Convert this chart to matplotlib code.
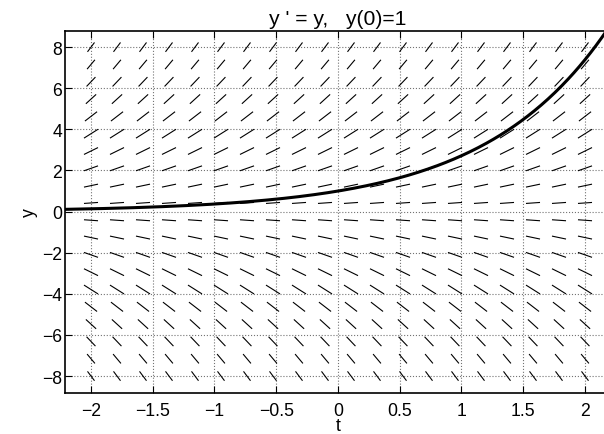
import numpy as np
import matplotlib.pyplot as plt
from matplotlib.collections import LineCollection

# grid of the direction field (y' = y)
t_vals = np.linspace(-2, 2, 20)
y_vals = np.linspace(-8, 8, 20)
x_ticks = [-2, -1.5, -1, -0.5, 0, 0.5, 1, 1.5, 2]
y_ticks = [-8, -6, -4, -2, 0, 2, 4, 6, 8]

dt = t_vals[1] - t_vals[0]
dy = y_vals[1] - y_vals[0]

tm, ym = np.meshgrid(t_vals, y_vals)
yp = ym  # slope f(t, y) = y
s = 0.27 / np.maximum(1 / dt, np.abs(yp) / dy)

segs = []
for t0, y0, si, ypi in zip(tm.ravel(), ym.ravel(), s.ravel(), yp.ravel()):
    segs.append([(t0 - si, y0 - si * ypi), (t0 + si, y0 + si * ypi)])

plt.rcParams['font.family'] = ['Liberation Sans', 'DejaVu Sans']
plt.rcParams['font.size'] = 12.7

fig = plt.figure(figsize=(6.04, 4.35), dpi=100)
ax = fig.add_axes([65 / 604, (435 - 393.5) / 435, (611 - 65) / 604, (393.5 - 31.7) / 435])

ax.add_collection(LineCollection(segs, colors='k', linewidths=0.8))

# solution y(t) = e^t, y(0) = 1
xlim = (-2 - dt, 2 + dt)
t_sol = np.linspace(xlim[0], xlim[1], 400)
ax.plot(t_sol, np.exp(t_sol), 'k', lw=2.2)

ax.set_xlim(xlim)
ax.set_ylim(-8.8, 8.8)
ax.set_xticks(x_ticks)
ax.set_xticklabels(['\u22122', '\u22121.5', '\u22121', '\u22120.5', '0', '0.5', '1', '1.5', '2'])
ax.set_yticks(y_ticks)
ax.set_yticklabels(['\u22128', '\u22126', '\u22124', '\u22122', '0', '2', '4', '6', '8'])
ax.tick_params(direction='in', top=True, right=True, length=5, width=0.8)
ax.tick_params(axis='x', pad=6.5)
ax.tick_params(axis='y', pad=2)
ax.grid(True, linestyle=':', color='0.45', lw=0.8)
for sp in ax.spines.values():
    sp.set_linewidth(1.2)

ax.set_title("y ' = y,   y(0)=1", pad=4.5)
ax.set_xlabel('t', labelpad=-1)
ax.set_ylabel('y', labelpad=3)

fig.savefig('out.png', dpi=100)
